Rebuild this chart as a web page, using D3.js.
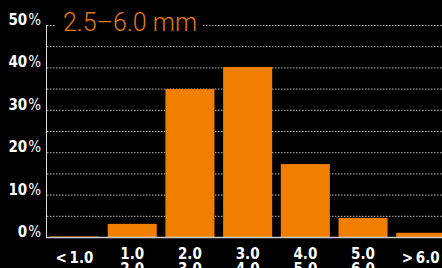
<!DOCTYPE html>
<html>
<head>
<meta charset="utf-8">
<script src="https://cdn.jsdelivr.net/npm/d3@7"></script>
<style>
  html, body { margin: 0; padding: 0; background: #000; }
  svg { display: block; }
</style>
</head>
<body>
<div id="chart"></div>
<script>
const categories = [["< 1.0"], ["1.0", "2.0"], ["2.0", "3.0"], ["3.0", "4.0"], ["4.0", "5.0"], ["5.0", "6.0"], ["> 6.0"]]
const values = [0.1, 3.1, 34.9, 40.1, 17.2, 4.5, 1.0]
const yTicks = [0, 10, 20, 30, 40, 50]
const gridTicks = [5, 10, 15, 20, 25, 30, 35, 40, 45, 50]
const title = "2.5–6.0 mm"

const width = 442, height = 268
const font = "'Liberation Sans Narrow', 'DejaVu Sans Condensed', 'Roboto Condensed', sans-serif"

let svg = d3.select("#chart")
  .append("svg")
  .attr("width", width)
  .attr("height", height)
  .style("background", "#000")

let x = d3.scaleBand()
  .domain(d3.range(categories.length))
  .range([45.7, 449.6])
  .paddingInner(0.15)
  .paddingOuter(0.075)

let y = d3.scaleLinear()
  .domain([0, 50])
  .range([237, 25])

// dotted gridlines
svg.append("g")
  .selectAll("line")
  .data(gridTicks)
  .join("line")
    .attr("x1", 47)
    .attr("x2", width)
    .attr("y1", d => y(d) + 0.5)
    .attr("y2", d => y(d) + 0.5)
    .attr("stroke", "#bbb")
    .attr("stroke-width", 1)
    .attr("stroke-dasharray", "1.5,1.5")

// bars
svg.append("g")
  .selectAll("rect")
  .data(values)
  .join("rect")
    .attr("x", (d, i) => x(i))
    .attr("width", x.bandwidth())
    .attr("y", d => y(d))
    .attr("height", d => y(0) - y(d))
    .attr("fill", "#f07f00")

// baseline and y axis line
svg.append("line")
  .attr("x1", 46).attr("x2", width)
  .attr("y1", y(0) + 0.5).attr("y2", y(0) + 0.5)
  .attr("stroke", "#ccc")
  .attr("stroke-width", 1.5)

svg.append("line")
  .attr("x1", 46.5).attr("x2", 46.5)
  .attr("y1", y(50)).attr("y2", y(0))
  .attr("stroke", "#ddd")
  .attr("stroke-width", 1)

// y labels
let yl = svg.append("g")
  .selectAll("text")
  .data(yTicks)
  .join("text")
    .attr("x", 41)
    .attr("y", d => y(d))
    .attr("text-anchor", "end")
    .attr("fill", "#fff")
    .attr("font-family", font)
    .attr("font-size", "15px")
    .attr("font-weight", "bold")
yl.append("tspan").text(d => d)
yl.append("tspan").text("%").attr("font-weight", "normal").attr("dx", 1)

// x labels (second line runs off the bottom, as in the original)
svg.append("g")
  .selectAll("text")
  .data(categories)
  .join("text")
    .attr("x", (d, i) => x(i) + x.bandwidth() / 2)
    .attr("y", d => d.length > 1 ? 259 : 263)
    .attr("text-anchor", "middle")
    .attr("fill", "#fff")
    .attr("font-family", font)
    .attr("font-size", "15px")
    .attr("font-weight", "bold")
    .call(t => t.selectAll("tspan")
      .data(d => d)
      .join("tspan")
        .attr("x", function() { return this.parentNode.getAttribute("x") })
        .attr("dy", (d, i) => i ? 15 : 0)
        .text(d => d.replace("< ", "<\u2009").replace("> ", ">\u2009")))

// title with black backdrop
let tg = svg.append("g")
let tt = tg.append("text")
  .attr("x", 63)
  .attr("y", 31)
  .attr("fill", "#e07810")
  .attr("font-family", "Roboto, 'Liberation Sans', Arial, sans-serif")
  .attr("font-weight", 300)
  .attr("font-size", "25px")
  .text(title)
let bb = tt.node().getBBox()
tg.insert("rect", "text")
  .attr("x", bb.x - 8)
  .attr("y", bb.y)
  .attr("width", bb.width + 13)
  .attr("height", bb.height)
  .attr("fill", "#000")
</script>
</body>
</html>
